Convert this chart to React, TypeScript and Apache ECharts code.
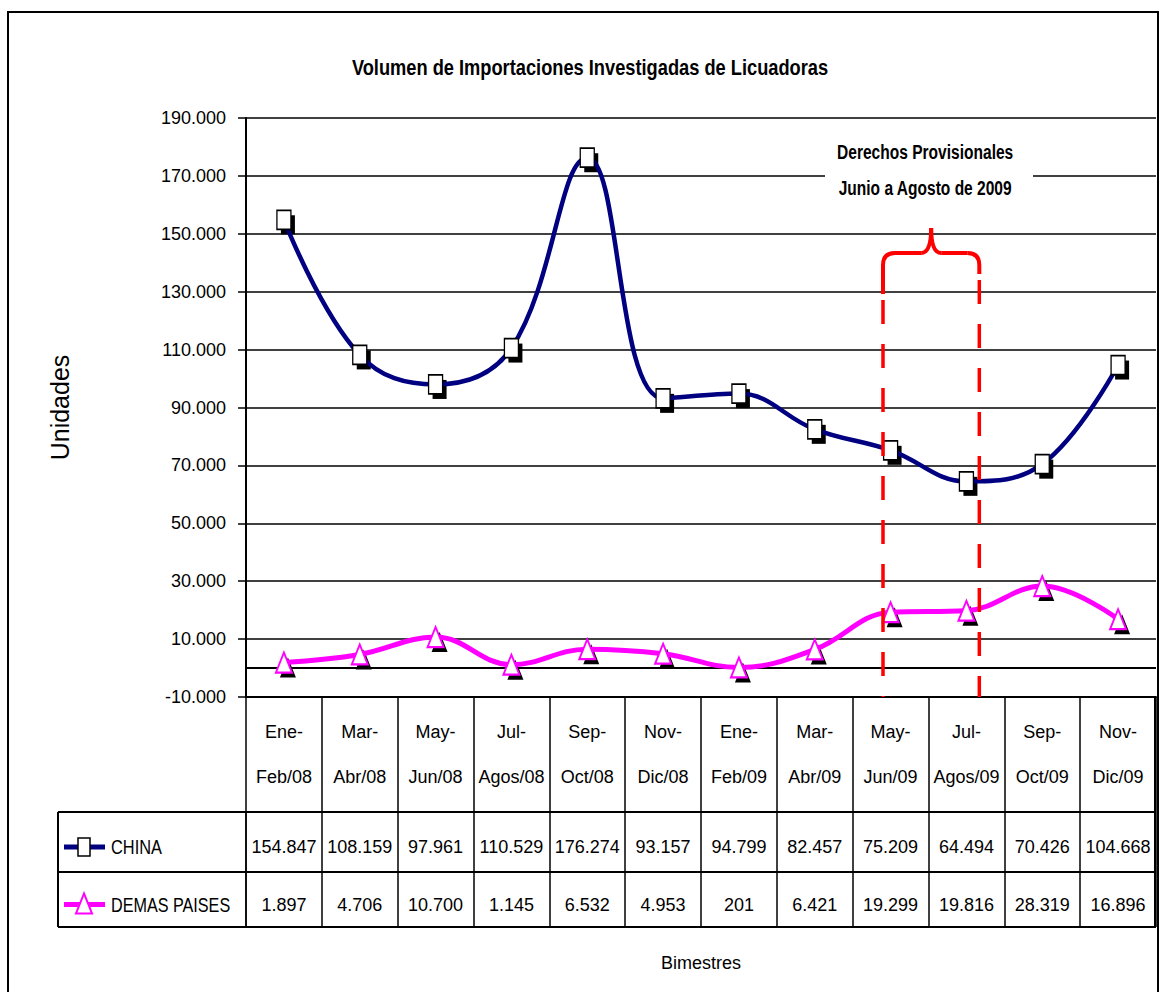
import React, { useEffect, useRef } from "react";
import * as echarts from "echarts";

const categories = [
  "Ene-\nFeb/08", "Mar-\nAbr/08", "May-\nJun/08", "Jul-\nAgos/08", "Sep-\nOct/08", "Nov-\nDic/08",
  "Ene-\nFeb/09", "Mar-\nAbr/09", "May-\nJun/09", "Jul-\nAgos/09", "Sep-\nOct/09", "Nov-\nDic/09",
];
const chinaValues = [154847, 108159, 97961, 110529, 176274, 93157, 94799, 82457, 75209, 64494, 70426, 104668];
const demasValues = [1897, 4706, 10700, 1145, 6532, 4953, 201, 6421, 19299, 19816, 28319, 16896];
const seriesNames = ["CHINA", "DEMAS PAISES"];
const titleText = "Volumen de Importaciones Investigadas de Licuadoras";
const noteLines = ["Derechos Provisionales", "Junio a Agosto de 2009"];
const yMin = -10000;
const yMax = 190000;
const yStep = 20000;

const SANS = "'Liberation Sans', Arial, sans-serif";
const NAVY = "#000080";
const MAGENTA = "#FF00FF";
const RED = "#FF0000";

const fmt = (v: number) => {
  const s = Math.abs(Math.round(v)).toString().replace(/\B(?=(\d{3})+(?!\d))/g, ".");
  return (v < 0 ? "-" : "") + s;
};

export default function App() {
  const ref = useRef<HTMLDivElement>(null);
  useEffect(() => {
    if (!ref.current) return;
    const chart = echarts.init(ref.current, null, { renderer: "svg" });
    const label = { fontFamily: SANS, fontSize: 18, color: "#000" };
    chart.setOption({
      animation: false,
      backgroundColor: "#fff",
      grid: { left: 246, right: 4, top: 118, bottom: 295 },
      xAxis: [
        {
          type: "category",
          data: categories,
          boundaryGap: true,
          position: "bottom",
          axisLine: { show: true, onZero: false, lineStyle: { color: "#000", width: 2 } },
          axisTick: { show: true, length: 230, alignWithLabel: false, lineStyle: { color: "#000", width: 1.5 } },
          axisLabel: { ...label, lineHeight: 45, margin: 12, interval: 0 },
          splitLine: { show: false },
          name: "Bimestres",
          nameLocation: "middle",
          nameGap: 257,
          nameTextStyle: label,
        },
        {
          type: "category",
          data: categories,
          position: "bottom",
          offset: 150,
          axisLine: { show: false },
          axisTick: { show: false },
          axisLabel: { ...label, margin: 0, verticalAlign: "middle", interval: 0, formatter: (_v: string, i: number) => fmt(chinaValues[i]) },
        },
        {
          type: "category",
          data: categories,
          position: "bottom",
          offset: 208,
          axisLine: { show: false },
          axisTick: { show: false },
          axisLabel: { ...label, margin: 0, verticalAlign: "middle", interval: 0, formatter: (_v: string, i: number) => fmt(demasValues[i]) },
        },
      ],
      yAxis: {
        type: "value",
        min: yMin,
        max: yMax,
        interval: yStep,
        axisLine: { show: true, lineStyle: { color: "#000", width: 2 } },
        axisTick: { show: true, length: 8, lineStyle: { color: "#000", width: 1.5 } },
        axisLabel: { ...label, margin: 20, formatter: (v: number) => fmt(v) },
        splitLine: { show: true, lineStyle: { color: "#000", width: 1.5 } },
        name: "Unidades",
        nameLocation: "middle",
        nameRotate: 90,
        nameGap: 174,
        nameTextStyle: { fontFamily: SANS, fontSize: 25, color: "#000" },
      },
      series: [
        {
          name: seriesNames[0] + " shadow",
          type: "line",
          data: chinaValues,
          smooth: 0.4,
          symbol: "rect",
          symbolSize: [14, 19],
          symbolOffset: [4, 5],
          itemStyle: { color: "#000", borderWidth: 0 },
          lineStyle: { width: 0, opacity: 0 },
          silent: true,
          z: 3,
        },
        {
          name: seriesNames[0],
          type: "line",
          data: chinaValues,
          smooth: 0.4,
          symbol: "rect",
          symbolSize: [14, 19],
          itemStyle: { color: "#fff", borderColor: "#000", borderWidth: 1.5 },
          lineStyle: { color: NAVY, width: 4.5 },
          z: 4,
        },
        {
          name: seriesNames[1] + " shadow",
          type: "line",
          data: demasValues,
          smooth: 0.4,
          symbol: "triangle",
          symbolSize: [16, 20],
          symbolOffset: [4, 5],
          itemStyle: { color: "#000", borderWidth: 0 },
          lineStyle: { width: 0, opacity: 0 },
          silent: true,
          z: 3,
        },
        {
          name: seriesNames[1],
          type: "line",
          data: demasValues,
          smooth: 0.4,
          symbol: "triangle",
          symbolSize: [16, 20],
          itemStyle: { color: "#fff", borderColor: MAGENTA, borderWidth: 2 },
          lineStyle: { color: MAGENTA, width: 5 },
          z: 4,
          markLine: {
            silent: true,
            symbol: ["none", "none"],
            label: { show: false },
            lineStyle: { color: "#000", width: 2, type: "solid" },
            data: [{ yAxis: 0 }],
            z: 2,
          },
        },
      ],
    });

    const c8 = chart.convertToPixel({ xAxisIndex: 0 }, 8) as number;
    const c9 = chart.convertToPixel({ xAxisIndex: 0 }, 9) as number;
    const c0 = chart.convertToPixel({ xAxisIndex: 0 }, 0) as number;
    const c11 = chart.convertToPixel({ xAxisIndex: 0 }, 11) as number;
    const bw = c9 - c8;
    const gridLeft = c0 - bw / 2;
    const gridRight = c11 + bw / 2;
    const yBottom = chart.convertToPixel({ yAxisIndex: 0 }, yMin) as number;
    const xL = c8 - 0.1 * bw;
    const xR = c9 + 0.17 * bw;
    const xM = (xL + xR) / 2;
    const by = 253;
    const rowTop = yBottom + 115;
    const row1 = rowTop + 60;
    const row2 = row1 + 55;
    const tableLeft = 58;
    const keyX = 84;
    const r1y = (rowTop + row1) / 2 + 5;
    const r2y = (row1 + row2) / 2 + 5;
    const redStyle = { stroke: RED, lineWidth: 4, fill: "none" };
    const narrowText = (text: string, x: number, y: number, size: number, sx: number, bold: boolean, align: string) => ({
      type: "text",
      z: 21,
      x,
      y,
      scaleX: sx,
      style: { text, fontFamily: SANS, fontSize: size, fontWeight: bold ? "bold" : "normal", fill: "#000", align, verticalAlign: "middle" },
    });

    chart.setOption({
      graphic: [
        { type: "rect", z: 0, silent: true, shape: { x: 8, y: 12, width: 1150, height: 1000 }, style: { fill: "none", stroke: "#000", lineWidth: 2 } },
        narrowText(titleText, 590, 67, 22, 0.83, true, "center"),
        // table
        { type: "line", z: 10, shape: { x1: tableLeft, y1: rowTop, x2: gridRight, y2: rowTop }, style: { stroke: "#000", lineWidth: 2 } },
        { type: "line", z: 10, shape: { x1: tableLeft, y1: row1, x2: gridRight, y2: row1 }, style: { stroke: "#000", lineWidth: 2 } },
        { type: "line", z: 10, shape: { x1: tableLeft, y1: row2, x2: gridRight, y2: row2 }, style: { stroke: "#000", lineWidth: 2 } },
        { type: "line", z: 10, shape: { x1: tableLeft, y1: rowTop, x2: tableLeft, y2: row2 }, style: { stroke: "#000", lineWidth: 2 } },
        { type: "line", z: 10, shape: { x1: gridLeft, y1: rowTop, x2: gridLeft, y2: row2 }, style: { stroke: "#000", lineWidth: 1.5 } },
        { type: "line", z: 10, shape: { x1: gridRight - 1, y1: yBottom, x2: gridRight - 1, y2: row2 }, style: { stroke: "#000", lineWidth: 2 } },
        // legend keys
        { type: "line", z: 10, shape: { x1: 64, y1: r1y, x2: 105, y2: r1y }, style: { stroke: NAVY, lineWidth: 5 } },
        { type: "rect", z: 11, shape: { x: keyX - 6, y: r1y - 9, width: 12, height: 18 }, style: { fill: "#fff", stroke: "#000", lineWidth: 1.5 } },
        narrowText(seriesNames[0], 111, r1y, 21, 0.78, false, "left"),
        { type: "line", z: 10, shape: { x1: 64, y1: r2y, x2: 105, y2: r2y }, style: { stroke: MAGENTA, lineWidth: 5 } },
        { type: "polygon", z: 11, shape: { points: [[keyX, r2y - 11], [keyX - 8, r2y + 9], [keyX + 8, r2y + 9]] }, style: { fill: "#fff", stroke: MAGENTA, lineWidth: 2 } },
        narrowText(seriesNames[1], 111, r2y, 21, 0.77, false, "left"),
        // annotation box
        { type: "rect", z: 20, shape: { x: 825, y: 132, width: 208, height: 78 }, style: { fill: "#fff" } },
        narrowText(noteLines[0], xM - 6, 152, 21, 0.74, true, "center"),
        narrowText(noteLines[1], xM - 6, 188, 21, 0.74, true, "center"),
        // red dashed lines
        { type: "line", z: 20, shape: { x1: xL, y1: 300, x2: xL, y2: yBottom }, style: { stroke: RED, lineWidth: 3.5, lineDash: [24, 20] } },
        { type: "line", z: 20, shape: { x1: xR, y1: 280, x2: xR, y2: yBottom }, style: { stroke: RED, lineWidth: 3.5, lineDash: [24, 20] } },
        // brace
        { type: "line", z: 20, shape: { x1: xL, y1: 294, x2: xL, y2: by + 12 }, style: redStyle },
        { type: "bezierCurve", z: 20, shape: { x1: xL, y1: by + 12, cpx1: xL, cpy1: by, x2: xL + 12, y2: by }, style: redStyle },
        { type: "line", z: 20, shape: { x1: xL + 12, y1: by, x2: xM - 10, y2: by }, style: redStyle },
        { type: "bezierCurve", z: 20, shape: { x1: xM - 10, y1: by, cpx1: xM, cpy1: by, x2: xM, y2: by - 25 }, style: redStyle },
        { type: "bezierCurve", z: 20, shape: { x1: xM, y1: by - 25, cpx1: xM, cpy1: by, x2: xM + 10, y2: by }, style: redStyle },
        { type: "line", z: 20, shape: { x1: xM + 10, y1: by, x2: xR - 12, y2: by }, style: redStyle },
        { type: "bezierCurve", z: 20, shape: { x1: xR - 12, y1: by, cpx1: xR, cpy1: by, x2: xR, y2: by + 12 }, style: redStyle },
        { type: "line", z: 20, shape: { x1: xR, y1: by + 12, x2: xR, y2: 274 }, style: redStyle },
      ],
    });
    return () => chart.dispose();
  }, []);
  return <div ref={ref} style={{ position: "fixed", left: 0, top: 0, width: 1160, height: 992 }} />;
}
